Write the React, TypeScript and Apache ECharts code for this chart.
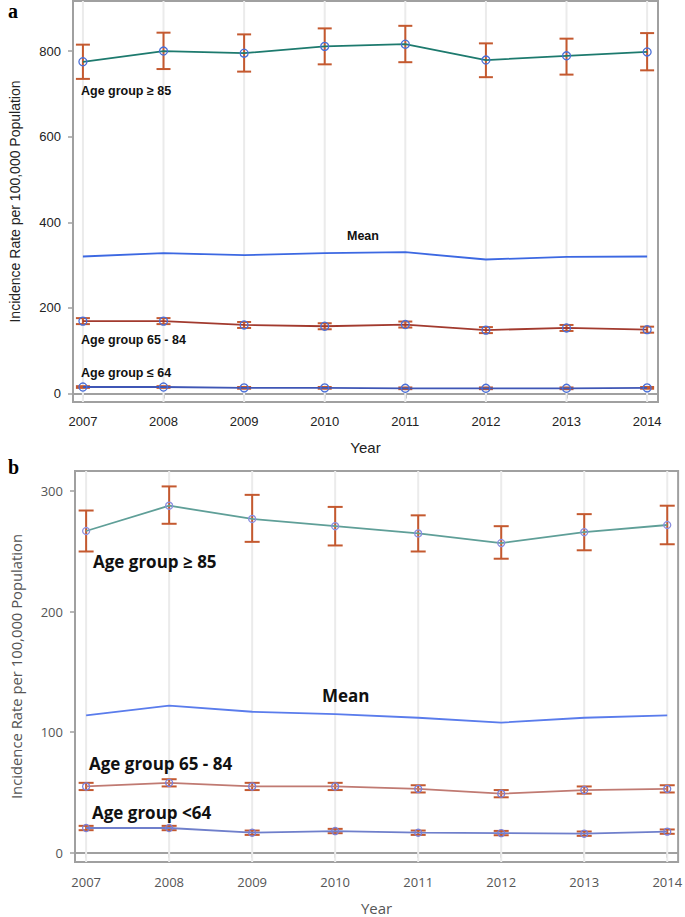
import React, { useEffect, useRef } from "react";
import * as echarts from "echarts";

const years = [2007, 2008, 2009, 2010, 2011, 2012, 2013, 2014];

// Panel a
const a85 = [775, 800, 795, 811, 816, 779, 789, 798];
const a85Lo = [735, 758, 752, 769, 774, 739, 745, 755];
const a85Hi = [815, 843, 839, 853, 859, 818, 829, 842];
const aMean = [320, 328, 323, 328, 330, 313, 319, 320];
const a6584 = [169, 169, 160, 157, 161, 148, 153, 149];
const a6584Lo = [162, 162, 153, 150, 154, 141, 146, 142];
const a6584Hi = [176, 176, 167, 164, 168, 155, 160, 156];
const a64 = [15, 15, 13, 13, 12, 12, 12, 13];
const a64Lo = [13, 13, 11, 11, 10, 10, 10, 11];
const a64Hi = [17, 17, 15, 15, 14, 14, 14, 15];
const aYTicks = [0, 200, 400, 600, 800];

// Panel b
const b85 = [267, 288, 277, 271, 265, 257, 266, 272];
const b85Lo = [250, 273, 258, 255, 250, 244, 251, 256];
const b85Hi = [284, 304, 297, 287, 280, 271, 281, 288];
const bMean = [114, 122, 117, 115, 112, 108, 112, 114];
const b6584 = [55, 58, 55, 55, 53, 49, 52, 53];
const b6584Lo = [52, 55, 52, 52, 50, 46, 49, 50];
const b6584Hi = [58, 61, 58, 58, 56, 52, 55, 56];
const b64 = [20.5, 20.5, 16.6, 18, 16.6, 16.3, 15.8, 17.5];
const b64Lo = [18.7, 18.7, 14.8, 16.2, 14.8, 14.5, 14, 15.7];
const b64Hi = [22.3, 22.3, 18.4, 19.8, 18.4, 18.1, 17.6, 19.3];
const bYTicks = [0, 100, 200, 300];

export default function App() {
  const ref = useRef<HTMLDivElement>(null);
  useEffect(() => {
    document.body.style.margin = "0";
    if (!ref.current) return;
    const chart = echarts.init(ref.current, undefined, { renderer: "svg" });

    const errSeries = (
      xi: number,
      lo: number[],
      hi: number[],
      color: string,
      half: number
    ) => ({
      type: "custom",
      xAxisIndex: xi,
      yAxisIndex: xi,
      z: 2,
      silent: true,
      data: years.map((y, i) => [y, lo[i], hi[i]]),
      encode: { x: 0, y: [1, 2] },
      renderItem: (params: any, api: any) => {
        const x = api.value(0);
        const pLo = api.coord([x, api.value(1)]);
        const pHi = api.coord([x, api.value(2)]);
        const style = { stroke: color, lineWidth: 2 };
        return {
          type: "group",
          children: [
            { type: "line", shape: { x1: pLo[0], y1: pLo[1], x2: pHi[0], y2: pHi[1] }, style },
            { type: "line", shape: { x1: pLo[0] - half, y1: pLo[1], x2: pLo[0] + half, y2: pLo[1] }, style },
            { type: "line", shape: { x1: pHi[0] - half, y1: pHi[1], x2: pHi[0] + half, y2: pHi[1] }, style },
          ],
        };
      },
    });

    const gridSeries = (xi: number) => ({
      type: "custom",
      xAxisIndex: xi,
      yAxisIndex: xi,
      z: 1,
      silent: true,
      data: years.map((y) => [y, 0]),
      encode: { x: 0, y: 1 },
      renderItem: (params: any, api: any) => {
        const cs = params.coordSys;
        const p = api.coord([api.value(0), 0]);
        return {
          type: "line",
          shape: { x1: p[0], y1: cs.y, x2: p[0], y2: cs.y + cs.height },
          style: { stroke: "#ebebeb", lineWidth: 2 },
        };
      },
    });

    const lineSeries = (
      xi: number,
      vals: number[],
      color: string,
      markers: boolean,
      markerColor: string,
      size: number
    ) => ({
      type: "line",
      xAxisIndex: xi,
      yAxisIndex: xi,
      z: 3,
      data: years.map((y, i) => [y, vals[i]]),
      showSymbol: markers,
      symbol: markers ? "circle" : "none",
      symbolSize: size,
      lineStyle: { color, width: 1.8 },
      itemStyle: { color: "rgba(255,255,255,0)", borderColor: markerColor, borderWidth: 1.3 },
      silent: true,
    });

    const fontA = "'Liberation Sans', Arial, sans-serif";
    const fontB = "'Open Sans', 'Noto Sans', sans-serif";

    const textA = (text: string, x: number, y: number) => ({
      type: "text",
      left: x,
      top: y,
      z: 100,
      style: { text, font: `bold 12.5px ${fontA}`, fill: "#111" },
    });
    const textB = (text: string, x: number, y: number) => ({
      type: "text",
      left: x,
      top: y,
      z: 100,
      style: { text, font: `bold 17px ${fontB}`, fill: "#111" },
    });

    chart.setOption({
      animation: false,
      backgroundColor: "#fff",
      grid: [
        {
          left: 68, top: 1, width: 590, height: 401,
          show: true, borderColor: "#a0a0a0", borderWidth: 2, backgroundColor: "transparent",
        },
        {
          left: 69, top: 471, width: 611, height: 391,
          show: true, borderColor: "#a0a0a0", borderWidth: 2, backgroundColor: "transparent",
        },
      ],
      xAxis: [
        {
          type: "value", gridIndex: 0, min: 2006.877, max: 2014.135,
          name: "Year", nameLocation: "middle", nameGap: 38,
          nameTextStyle: { fontFamily: fontA, fontSize: 15, color: "#222" },
          axisLine: { show: true, lineStyle: { color: "#a0a0a0", width: 2 } },
          axisTick: { show: true, customValues: years, length: 5, lineStyle: { color: "#a0a0a0", width: 1.5 } },
          axisLabel: {
            customValues: years, margin: 13, fontFamily: fontA, fontSize: 13, color: "#222",
            formatter: (v: number) => String(Math.round(v)),
          },
          splitLine: { show: false },
        },
        {
          type: "value", gridIndex: 1, min: 2006.866, max: 2014.131,
          name: "Year", nameLocation: "middle", nameGap: 38,
          nameTextStyle: { fontFamily: fontB, fontSize: 15, color: "#555" },
          axisLine: { show: true, lineStyle: { color: "#a0a0a0", width: 2 } },
          axisTick: { show: true, customValues: years, length: 5, lineStyle: { color: "#a0a0a0", width: 1.5 } },
          axisLabel: {
            customValues: years, margin: 13, fontFamily: fontB, fontSize: 13, color: "#555",
            formatter: (v: number) => String(Math.round(v)),
          },
          splitLine: { show: false },
        },
      ],
      yAxis: [
        {
          type: "value", gridIndex: 0, min: -20, max: 917,
          name: "Incidence Rate per 100,000 Population", nameLocation: "middle", nameGap: 51,
          nameTextStyle: { fontFamily: fontA, fontSize: 14, color: "#222" },
          axisLine: { show: true, lineStyle: { color: "#a0a0a0", width: 2 } },
          axisTick: { show: true, customValues: aYTicks, length: 5, lineStyle: { color: "#a0a0a0", width: 1.5 } },
          axisLabel: { customValues: aYTicks, margin: 12, fontFamily: fontA, fontSize: 13, color: "#222" },
          splitLine: { show: false },
        },
        {
          type: "value", gridIndex: 1, min: -7.7, max: 316.8,
          name: "Incidence Rate per 100,000 Population", nameLocation: "middle", nameGap: 52,
          nameTextStyle: { fontFamily: fontB, fontSize: 14.8, color: "#555" },
          axisLine: { show: true, lineStyle: { color: "#a0a0a0", width: 2 } },
          axisTick: { show: true, customValues: bYTicks, length: 5, lineStyle: { color: "#a0a0a0", width: 1.5 } },
          axisLabel: { customValues: bYTicks, margin: 12, fontFamily: fontB, fontSize: 13, color: "#555" },
          splitLine: { show: false },
        },
      ],
      series: [
        gridSeries(0),
        gridSeries(1),
        errSeries(0, a85Lo, a85Hi, "#c4592f", 7),
        errSeries(0, a6584Lo, a6584Hi, "#c4592f", 7),
        errSeries(0, a64Lo, a64Hi, "#c4592f", 7),
        lineSeries(0, a85, "#1d7a6e", true, "#4a6fd8", 8),
        lineSeries(0, aMean, "#3c68e2", false, "#3c68e2", 0),
        lineSeries(0, a6584, "#a23a2e", true, "#4a6fd8", 8),
        lineSeries(0, a64, "#3f56b5", true, "#4a6fd8", 8),
        errSeries(1, b85Lo, b85Hi, "#c4592f", 7.5),
        errSeries(1, b6584Lo, b6584Hi, "#c4592f", 7.5),
        errSeries(1, b64Lo, b64Hi, "#c4592f", 7.5),
        lineSeries(1, b85, "#5f9f98", true, "#8b8fe0", 7),
        lineSeries(1, bMean, "#5a7cec", false, "#5a7cec", 0),
        lineSeries(1, b6584, "#c07a72", true, "#7b80d8", 7),
        lineSeries(1, b64, "#6f7fcb", true, "#7b80d8", 7),
      ],
      graphic: [
        { type: "text", left: 8, top: 1, z: 100, style: { text: "a", font: "bold 20px 'Liberation Serif', 'DejaVu Serif', serif", fill: "#000" } },
        { type: "text", left: 8, top: 457, z: 100, style: { text: "b", font: "bold 20px 'Liberation Serif', 'DejaVu Serif', serif", fill: "#000" } },
        textA("Age group ≥ 85", 81, 84),
        textA("Mean", 347, 229),
        textA("Age group 65 - 84", 81, 333),
        textA("Age group ≤ 64", 81, 366),
        textB("Age group ≥ 85", 93, 553),
        textB("Mean", 322, 687),
        textB("Age group 65 - 84", 89, 755),
        textB("Age group <64", 92, 804),
      ],
    });
    return () => chart.dispose();
  }, []);
  return <div ref={ref} style={{ width: 685, height: 917 }} />;
}
